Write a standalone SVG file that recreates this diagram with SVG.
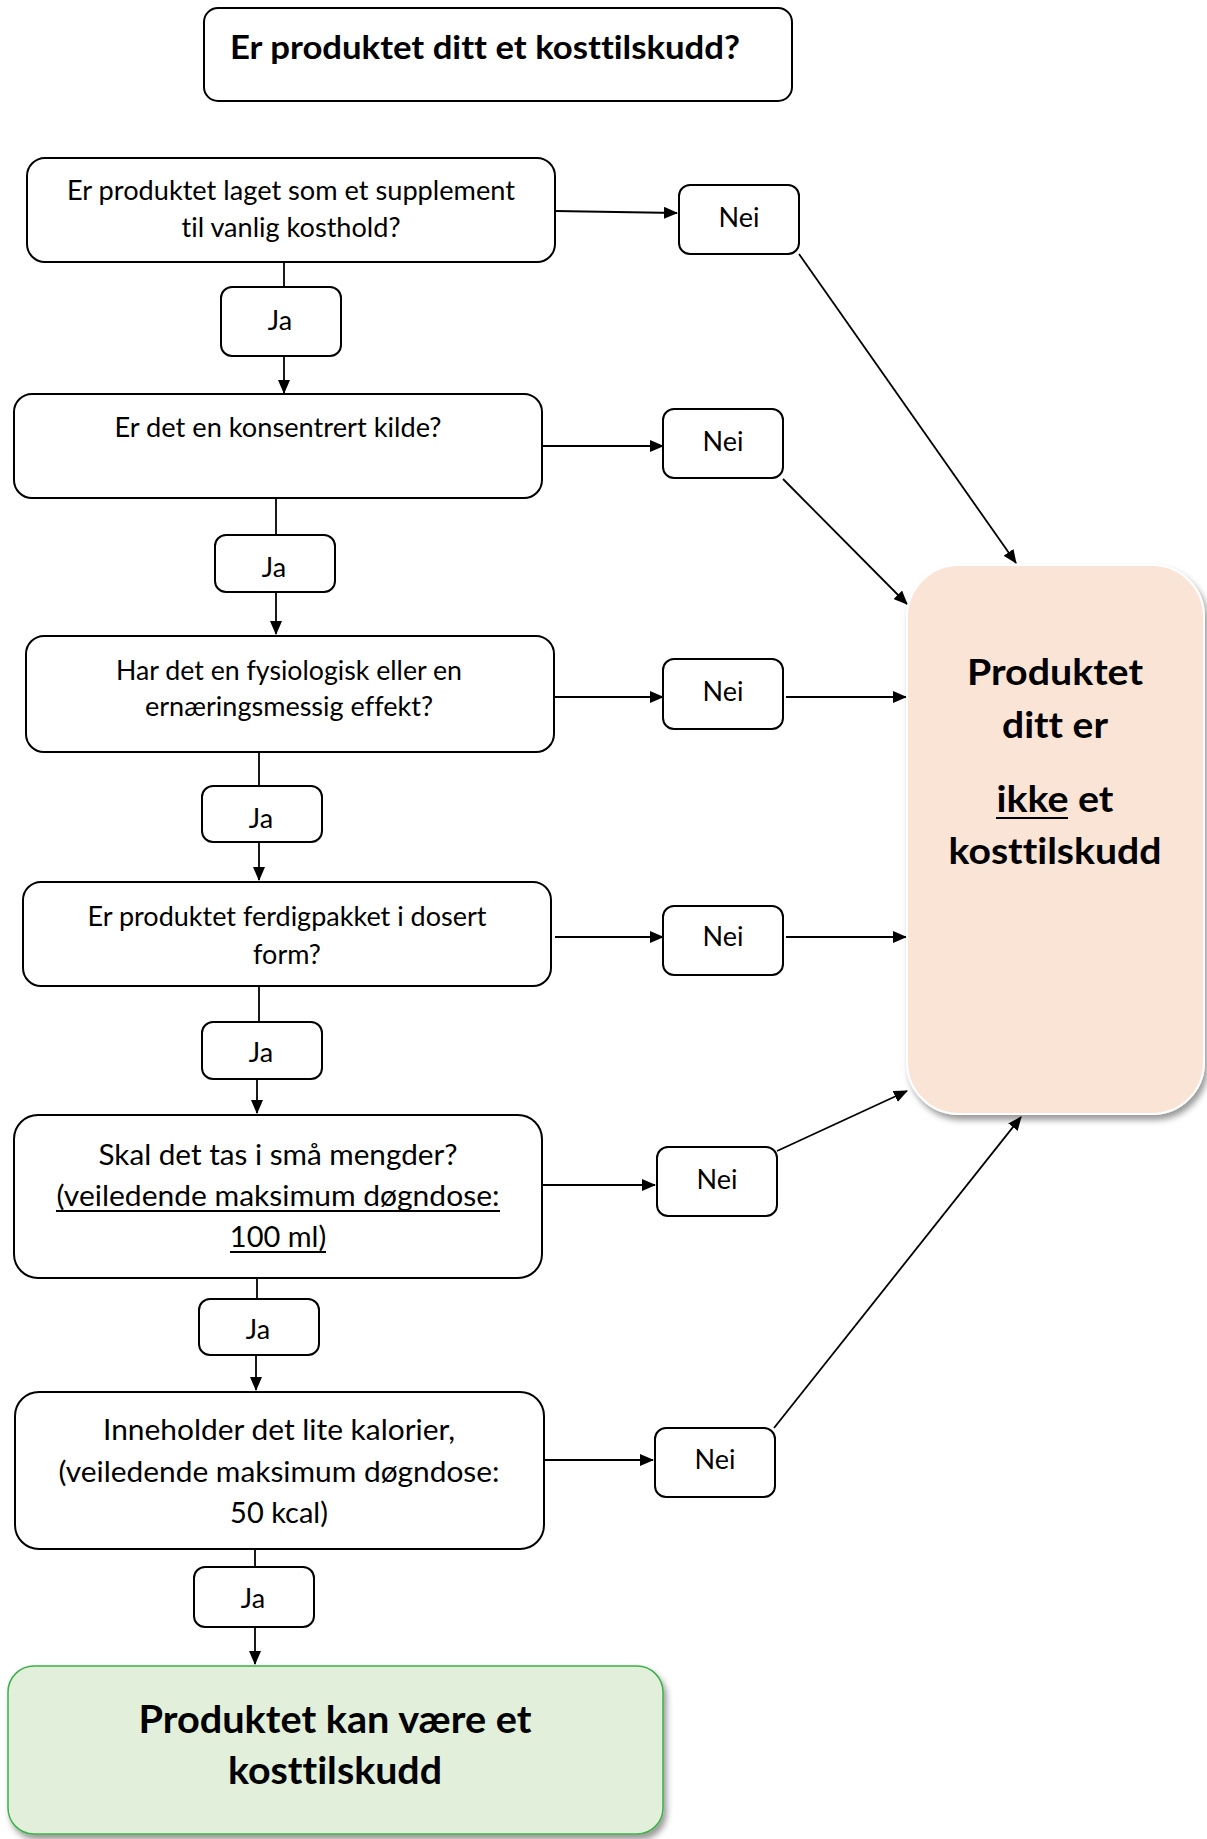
<svg xmlns="http://www.w3.org/2000/svg" width="1207" height="1839" viewBox="0 0 1207 1839">
<style>
text{font-variant-ligatures:none}
.box{fill:#fff;stroke:#000;stroke-width:2}
.q{font-family:Lato,"Liberation Sans",sans-serif;font-size:27px;text-anchor:middle;fill:#000}
.q2{font-family:Lato,"Liberation Sans",sans-serif;font-size:29px;text-anchor:middle;fill:#000}
.b{font-family:Lato,"Liberation Sans",sans-serif;font-weight:bold;text-anchor:middle;fill:#000}
.c{fill:none;stroke:#000;stroke-width:1.8}
.u{stroke:#000;stroke-width:2}
</style>
<defs>
<marker id="ah" markerWidth="14" markerHeight="12" refX="13" refY="6" orient="auto" markerUnits="userSpaceOnUse">
<path d="M0,0 L14,6 L0,12 Z" fill="#000"/>
</marker>
<filter id="sh" x="-10%" y="-10%" width="125%" height="125%">
<feDropShadow dx="3" dy="5" stdDeviation="3" flood-color="#000" flood-opacity="0.4"/>
</filter>
</defs>

<g id="connectors">
<line class="c" x1="555" y1="211" x2="677" y2="213" marker-end="url(#ah)"/>
<line class="c" x1="284" y1="262" x2="284" y2="287"/>
<line class="c" x1="284" y1="356" x2="284" y2="393" marker-end="url(#ah)"/>
<line class="c" x1="542" y1="446" x2="663" y2="446" marker-end="url(#ah)"/>
<line class="c" x1="276" y1="498" x2="276" y2="535"/>
<line class="c" x1="276" y1="592" x2="276" y2="634" marker-end="url(#ah)"/>
<line class="c" x1="554" y1="697" x2="663" y2="697" marker-end="url(#ah)"/>
<line class="c" x1="259" y1="752" x2="259" y2="786"/>
<line class="c" x1="259" y1="842" x2="259" y2="880" marker-end="url(#ah)"/>
<line class="c" x1="555" y1="937" x2="663" y2="937" marker-end="url(#ah)"/>
<line class="c" x1="259" y1="986" x2="259" y2="1022"/>
<line class="c" x1="257" y1="1079" x2="257" y2="1113" marker-end="url(#ah)"/>
<line class="c" x1="542" y1="1185" x2="655" y2="1185" marker-end="url(#ah)"/>
<line class="c" x1="257" y1="1278" x2="257" y2="1299"/>
<line class="c" x1="256" y1="1355" x2="256" y2="1390" marker-end="url(#ah)"/>
<line class="c" x1="544" y1="1460" x2="653" y2="1460" marker-end="url(#ah)"/>
<line class="c" x1="255" y1="1549" x2="255" y2="1567"/>
<line class="c" x1="255" y1="1627" x2="255" y2="1664" marker-end="url(#ah)"/>
<line class="c" x1="799" y1="254" x2="1016" y2="563" marker-end="url(#ah)"/>
<line class="c" x1="783" y1="479" x2="907" y2="604" marker-end="url(#ah)"/>
<line class="c" x1="786" y1="697" x2="906" y2="697" marker-end="url(#ah)"/>
<line class="c" x1="786" y1="937" x2="906" y2="937" marker-end="url(#ah)"/>
<line class="c" x1="777" y1="1151" x2="907" y2="1091" marker-end="url(#ah)"/>
<line class="c" x1="774" y1="1428" x2="1021" y2="1117" marker-end="url(#ah)"/>
</g>

<g id="title">
<rect class="box" x="204" y="8" width="588" height="93" rx="14"/>
<text class="b" x="485" y="59" font-size="32" textLength="510" lengthAdjust="spacingAndGlyphs">Er produktet ditt et kosttilskudd?</text>
</g>

<g id="q1">
<rect class="box" x="27" y="158" width="528" height="104" rx="18"/>
<text class="q" x="291" y="200" textLength="448" lengthAdjust="spacingAndGlyphs">Er produktet laget som et supplement</text>
<text class="q" x="291" y="237" textLength="219" lengthAdjust="spacingAndGlyphs">til vanlig kosthold?</text>
</g>
<g id="nei1"><rect class="box" x="679" y="185" width="120" height="69" rx="11"/><text class="q" x="739" y="227">Nei</text></g>
<g id="ja1"><rect class="box" x="221" y="287" width="120" height="69" rx="11"/><text class="q" x="280" y="330">Ja</text></g>

<g id="q2">
<rect class="box" x="14" y="394" width="528" height="104" rx="18"/>
<text class="q" x="278" y="437" textLength="327" lengthAdjust="spacingAndGlyphs">Er det en konsentrert kilde?</text>
</g>
<g id="nei2"><rect class="box" x="663" y="409" width="120" height="69" rx="11"/><text class="q" x="723" y="451">Nei</text></g>
<g id="ja2"><rect class="box" x="215" y="535" width="120" height="57" rx="11"/><text class="q" x="274" y="577">Ja</text></g>

<g id="q3">
<rect class="box" x="26" y="636" width="528" height="116" rx="18"/>
<text class="q" x="289" y="680" textLength="346" lengthAdjust="spacingAndGlyphs">Har det en fysiologisk eller en</text>
<text class="q" x="289" y="716" textLength="288" lengthAdjust="spacingAndGlyphs">ernæringsmessig effekt?</text>
</g>
<g id="nei3"><rect class="box" x="663" y="659" width="120" height="70" rx="11"/><text class="q" x="723" y="701">Nei</text></g>
<g id="ja3"><rect class="box" x="202" y="786" width="120" height="56" rx="11"/><text class="q" x="261" y="828">Ja</text></g>

<g id="q4">
<rect class="box" x="23" y="882" width="528" height="104" rx="18"/>
<text class="q" x="287" y="926" textLength="399" lengthAdjust="spacingAndGlyphs">Er produktet ferdigpakket i dosert</text>
<text class="q" x="287" y="964">form?</text>
</g>
<g id="nei4"><rect class="box" x="663" y="906" width="120" height="69" rx="11"/><text class="q" x="723" y="946">Nei</text></g>
<g id="ja4"><rect class="box" x="202" y="1022" width="120" height="57" rx="11"/><text class="q" x="261" y="1062">Ja</text></g>

<g id="q5">
<rect class="box" x="14" y="1115" width="528" height="163" rx="24"/>
<text class="q2" x="278" y="1165" textLength="359" lengthAdjust="spacingAndGlyphs">Skal det tas i små mengder?</text>
<text class="q2" x="278" y="1206" textLength="443" lengthAdjust="spacingAndGlyphs">(veiledende maksimum døgndose:</text>
<line class="u" x1="56" y1="1211" x2="500" y2="1211"/>
<text class="q2" x="278" y="1247">100 ml)</text>
<line class="u" x1="230" y1="1252" x2="326" y2="1252"/>
</g>
<g id="nei5"><rect class="box" x="657" y="1147" width="120" height="69" rx="11"/><text class="q" x="717" y="1189">Nei</text></g>
<g id="ja5"><rect class="box" x="199" y="1299" width="120" height="56" rx="11"/><text class="q" x="258" y="1339">Ja</text></g>

<g id="q6">
<rect class="box" x="15" y="1392" width="529" height="157" rx="24"/>
<text class="q2" x="279" y="1440" textLength="352" lengthAdjust="spacingAndGlyphs">Inneholder det lite kalorier,</text>
<text class="q2" x="279" y="1482" textLength="441" lengthAdjust="spacingAndGlyphs">(veiledende maksimum døgndose:</text>
<text class="q2" x="279" y="1523">50 kcal)</text>
</g>
<g id="nei6"><rect class="box" x="655" y="1428" width="120" height="69" rx="11"/><text class="q" x="715" y="1469">Nei</text></g>
<g id="ja6"><rect class="box" x="194" y="1567" width="120" height="60" rx="11"/><text class="q" x="253" y="1608">Ja</text></g>

<g id="result-yes">
<rect x="8" y="1666" width="655" height="168" rx="26" fill="#E2EFDA" stroke="#3CB04A" stroke-width="1.5" filter="url(#sh)"/>
<text class="b" x="335" y="1733" font-size="38" textLength="393" lengthAdjust="spacingAndGlyphs">Produktet kan være et</text>
<text class="b" x="335" y="1784" font-size="38" textLength="214" lengthAdjust="spacingAndGlyphs">kosttilskudd</text>
</g>

<g id="result-no">
<rect x="907" y="565" width="297" height="549" rx="52" fill="#FAE4D6" stroke="#fff" stroke-width="2" filter="url(#sh)"/>
<text class="b" x="1055" y="685" font-size="36" textLength="176" lengthAdjust="spacingAndGlyphs">Produktet</text>
<text class="b" x="1055" y="738" font-size="36" textLength="106" lengthAdjust="spacingAndGlyphs">ditt er</text>
<text class="b" x="1055" y="812" font-size="36" textLength="117" lengthAdjust="spacingAndGlyphs">ikke et</text>
<line class="u" x1="996" y1="818" x2="1068" y2="818" stroke-width="2.5"/>
<text class="b" x="1055" y="864" font-size="36" textLength="213" lengthAdjust="spacingAndGlyphs">kosttilskudd</text>
</g>
</svg>
